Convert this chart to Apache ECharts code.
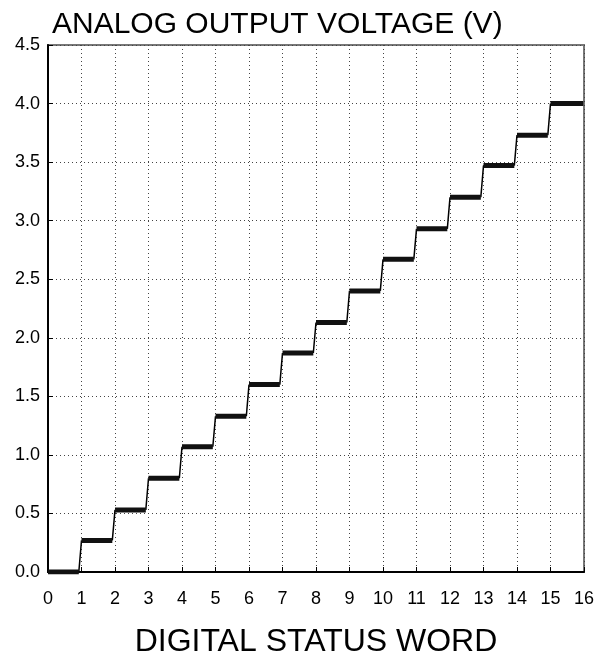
<!DOCTYPE html>
<html>
<head>
<meta charset="utf-8">
<title>DAC staircase</title>
<script src="https://cdn.jsdelivr.net/npm/echarts@6/dist/echarts.min.js"></script>
<style>
  html, body { margin: 0; padding: 0; background: #fff; }
  #chart { width: 599px; height: 656px; }
</style>
</head>
<body>
<div id="chart"></div>
<script>
// digital codes and the analog level for each
var codes = [0, 1, 2, 3, 4, 5, 6, 7, 8, 9, 10, 11, 12, 13, 14, 15];
var volts = [0.00, 0.27, 0.53, 0.80, 1.07, 1.33, 1.60, 1.87, 2.13, 2.40, 2.67, 2.93, 3.20, 3.47, 3.73, 4.00];
// each level is held for most of the code width, then ramps to the next
var holdWidth = [0.92, 0.92, 0.92, 0.92, 0.92, 0.92, 0.92, 0.92, 0.92, 0.92, 0.92, 0.92, 0.92, 0.92, 0.92, 0.98];

var flats = [];
var risers = [];
for (var i = 0; i < codes.length; i++) {
  flats.push([codes[i], volts[i]]);
  flats.push([codes[i] + holdWidth[i], volts[i]]);
  flats.push([codes[i] + holdWidth[i], '-']);
  if (i < codes.length - 1) {
    risers.push([codes[i] + holdWidth[i], volts[i]]);
    risers.push([codes[i + 1], volts[i + 1]]);
    risers.push([codes[i + 1], '-']);
  }
}

var font = '"Liberation Sans", Arial, sans-serif';
var chart = echarts.init(document.getElementById('chart'), null, { renderer: 'canvas' });

chart.setOption({
  animation: false,
  title: {
    text: 'ANALOG OUTPUT VOLTAGE (V)',
    left: 47, top: 5,
    textStyle: { fontFamily: font, fontSize: 30, fontWeight: 'normal', color: '#000' }
  },
  grid: {
    left: 48, right: 15, top: 45, bottom: 84,
    outerBoundsMode: 'none', containLabel: false,
    show: true, borderColor: '#777', borderWidth: 2, backgroundColor: 'transparent'
  },
  xAxis: {
    type: 'value', min: 0, max: 16, interval: 1,
    name: 'DIGITAL STATUS WORD', nameLocation: 'middle', nameGap: 54,
    nameTextStyle: { fontFamily: font, fontSize: 32, color: '#000' },
    axisLine: { lineStyle: { color: '#000', width: 2 } },
    axisTick: { inside: true, length: 5, lineStyle: { color: '#000', width: 1 } },
    axisLabel: { fontFamily: font, fontSize: 18, color: '#000', margin: 18 },
    splitLine: { show: true, lineStyle: { color: '#444', type: [1, 3], width: 1 } }
  },
  yAxis: {
    type: 'value', min: 0, max: 4.5, interval: 0.5,
    axisLine: { show: true, lineStyle: { color: '#000', width: 2 } },
    axisTick: { show: true, inside: true, length: 5, lineStyle: { color: '#000', width: 1 } },
    axisLabel: { fontFamily: font, fontSize: 18, color: '#000', margin: 8,
      formatter: function (v) { return v.toFixed(1); } },
    splitLine: { show: true, lineStyle: { color: '#444', type: [1, 3], width: 1 } }
  },
  series: [
    {
      type: 'line', data: risers, showSymbol: false, connectNulls: false,
      lineStyle: { color: '#000', width: 1.5 }
    },
    {
      type: 'line', data: flats, showSymbol: false, connectNulls: false,
      lineStyle: { color: '#111', width: 5, cap: 'butt' }
    }
  ]
});
</script>
</body>
</html>
